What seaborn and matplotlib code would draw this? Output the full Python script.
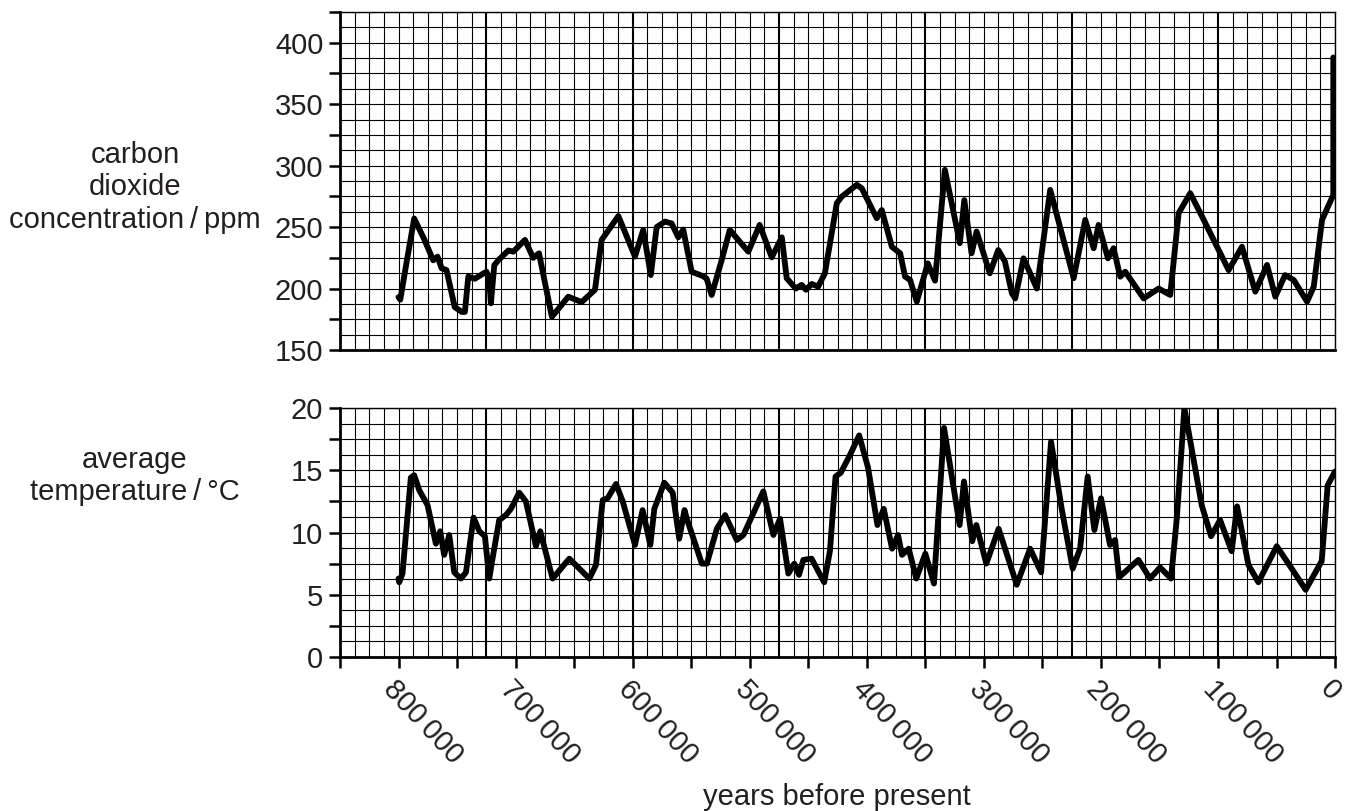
import numpy as np
import pandas as pd
import matplotlib
matplotlib.use('Agg')
import matplotlib.pyplot as plt
from matplotlib.ticker import MultipleLocator, FixedLocator, NullFormatter
import seaborn as sns

# carbon dioxide record (years before present, ppm)
co2_years = [800000, 798500, 793000, 786600, 778000, 770400, 766700, 763200, 759000, 752000,
             746000, 743300, 740400, 734800, 728000, 724800, 722500, 721100, 718200, 714800,
             706200, 702000, 692000, 685000, 680000, 669000, 655000, 643600, 632200, 626500,
             612200, 598000, 591000, 584500, 579500, 572400, 566700, 561000, 556800, 549600,
             539700, 536800, 532500, 524000, 517000, 501200, 491500, 481200, 472600, 468400,
             460700, 455600, 452000, 447000, 441500, 435800, 425600, 421400, 408500, 404300,
             391500, 387200, 378600, 371500, 367300, 363000, 357300, 347900, 341700, 333300,
             320500, 316700, 310500, 306200, 294900, 287700, 282000, 276000, 273200, 266100,
             254700, 243300, 223300, 213400, 206200, 202000, 194000, 189200, 183500, 179200,
             163500, 150700, 140800, 133600, 123700, 113700, 90900, 79500, 68100, 58100,
             51000, 42700, 35300, 23900, 18200, 11100, 1500, 1500]
co2_ppm = [193, 191, 222, 257, 240, 223, 226, 216.5, 215, 185,
           181, 181, 209.7, 208, 212, 213.7, 207, 188, 219, 223,
           231, 230, 239.6, 225, 228.7, 177, 193.4, 189, 199, 239.6,
           259, 226, 247.7, 211, 250, 254.5, 253, 241.7, 248, 213.7,
           210, 208, 194.8, 223, 247.7, 230, 251.8, 225.4, 241.7, 208.4,
           200, 203, 199, 203.7, 201.6, 212.4, 269.5, 274.8, 284.4, 281.6,
           257.2, 263.9, 234, 228.7, 209.7, 207, 189.3, 220.5, 206.4, 296.6,
           236.9, 272, 228.7, 246.4, 212.4, 231.4, 222, 196, 192, 224.6,
           200, 280.3, 208.4, 255.9, 232.8, 251.8, 224.6, 232.8, 209.7, 213.7,
           192, 200, 194.8, 261.4, 277.6, 258.8, 215, 234, 197.5, 219.2,
           193.4, 211, 207, 189.3, 201.6, 255.9, 276.2, 388]

# average temperature record (years before present, degC)
temp_years = [800000, 799400, 796600, 789500, 786600, 782300, 775200, 768100, 764400, 761000,
              756700, 752400, 746700, 742400, 735900, 731000, 726200, 722500, 719700, 714000,
              708300, 704000, 696900, 691200, 682600, 678900, 668400, 654100, 637000, 631300,
              625600, 621400, 614200, 608500, 598000, 591500, 584900, 581500, 573000, 565800,
              560200, 555700, 553700, 540900, 536600, 528100, 521000, 511100, 505400, 488400,
              479800, 474100, 467000, 461900, 457900, 454200, 447200, 436400, 431500, 426700,
              422200, 414500, 406500, 398900, 390900, 385500, 378400, 373300, 369900, 364200,
              357700, 350000, 342600, 334000, 320700, 317000, 309900, 306400, 297900, 287400,
              271900, 260500, 251100, 242600, 233500, 224100, 217800, 211300, 205600, 199900,
              192200, 187900, 184500, 168000, 158000, 149500, 140100, 135200, 128700, 113900,
              105900, 98200, 88300, 83700, 74000, 65500, 49800, 37000, 25100, 11400,
              6300, 0]
temp_c = [6.3, 6.0, 6.7, 14.4, 14.6, 13.4, 12.2, 9.1, 10.1, 8.2,
          9.8, 6.8, 6.3, 6.8, 11.2, 10.1, 9.7, 6.3, 7.9, 11.0,
          11.4, 11.9, 13.2, 12.5, 8.9, 10.1, 6.3, 7.9, 6.3, 7.4,
          12.6, 12.75, 13.9, 12.5, 9.0, 11.8, 9.0, 11.9, 14.0, 13.2,
          9.5, 11.8, 11.1, 7.5, 7.5, 10.3, 11.4, 9.4, 9.8, 13.3,
          9.8, 11.1, 6.7, 7.5, 6.6, 7.8, 7.9, 6.0, 8.5, 14.5,
          14.8, 16.2, 17.8, 15.2, 10.6, 11.9, 8.7, 9.8, 8.2, 8.7,
          6.3, 8.3, 5.9, 18.4, 10.6, 14.1, 9.3, 10.6, 7.5, 10.3,
          5.8, 8.7, 6.8, 17.3, 11.9, 7.1, 8.7, 14.5, 10.2, 12.75,
          9.0, 9.4, 6.4, 7.8, 6.3, 7.2, 6.3, 11.1, 20.0, 12.2,
          9.7, 11.0, 8.5, 12.1, 7.4, 6.0, 8.9, 7.1, 5.4, 7.7,
          13.8, 14.9]

x_labels = [800000, 700000, 600000, 500000, 400000, 300000, 200000, 100000, 0]

df_co2 = pd.DataFrame({'years': co2_years, 'co2': co2_ppm})
df_temp = pd.DataFrame({'years': temp_years, 'temp': temp_c})

sns.set_style('white')
plt.rcParams['font.family'] = ['Liberation Sans', 'DejaVu Sans']
text_col = '#231f20'
fs = 21

fig = plt.figure(figsize=(13.54, 8.11), dpi=100)
ax1 = fig.add_axes([0.2511, 0.5684, 0.7349, 0.4168])
ax2 = fig.add_axes([0.2511, 0.1899, 0.7349, 0.3070])


def graph_paper(ax, ylo, yhi, ystep):
    # the squared paper under the curves
    for x in np.arange(0, 850001, 12500):
        major = (850000 - x) % 125000 == 0
        ax.axvline(x, color='black', lw=1.5 if major else 0.8, zorder=1)
    for y in np.arange(ylo, yhi + ystep / 2, ystep):
        ax.axhline(y, color='black', lw=0.8, zorder=1)


graph_paper(ax1, 150, 425, 12.5)
graph_paper(ax2, 0, 20, 1.25)

sns.lineplot(data=df_co2, x='years', y='co2', ax=ax1, color='black', linewidth=4.2,
             sort=False, estimator=None, solid_joinstyle='round', solid_capstyle='round', zorder=3)
sns.lineplot(data=df_temp, x='years', y='temp', ax=ax2, color='black', linewidth=4.2,
             sort=False, estimator=None, solid_joinstyle='round', solid_capstyle='round', zorder=3)

for ax in (ax1, ax2):
    ax.set_xlim(850000, 0)
    ax.set_xlabel('')
    ax.set_ylabel('')
    for side in ('top', 'right'):
        ax.spines[side].set_linewidth(1.0)
    for side in ('left', 'bottom'):
        ax.spines[side].set_linewidth(2.0)
    for s in ax.spines.values():
        s.set_color('black')
        s.set_zorder(4)
    ax.tick_params(axis='y', which='both', direction='out', length=8, width=1.8,
                   colors='black', labelcolor=text_col, labelsize=fs, left=True, pad=4)

ax1.set_ylim(150, 425)
ax1.yaxis.set_major_locator(FixedLocator([150, 200, 250, 300, 350, 400]))
ax1.yaxis.set_minor_locator(MultipleLocator(25))
ax1.tick_params(axis='x', which='both', bottom=False, labelbottom=False)

ax2.set_ylim(0, 20)
ax2.yaxis.set_major_locator(MultipleLocator(5))
ax2.yaxis.set_minor_locator(MultipleLocator(2.5))
ax2.xaxis.set_major_locator(FixedLocator(x_labels))
ax2.xaxis.set_minor_locator(FixedLocator(np.arange(50000, 850001, 100000)))
ax2.xaxis.set_minor_formatter(NullFormatter())
ax2.set_xticklabels([f'{v:,}'.replace(',', '\u2009') for v in x_labels])
ax2.tick_params(axis='x', which='both', direction='out', length=8, width=1.8,
                colors='black', labelcolor=text_col, labelsize=fs, bottom=True, pad=5)
for lab in ax2.get_xticklabels():
    lab.set_rotation(-47)
    lab.set_ha('left')
    lab.set_va('top')
    lab.set_rotation_mode('anchor')

fig.text(0.0997, 0.769, 'carbon\ndioxide\nconcentration\u2009/\u2009ppm', ha='center', va='center',
         fontsize=fs, color=text_col, linespacing=1.2)
fig.text(0.0997, 0.413, 'average\ntemperature\u2009/\u2009\u00b0C', ha='center', va='center',
         fontsize=fs, color=text_col, linespacing=1.2)
fig.text(0.618, 0.017, 'years before present', ha='center', va='center',
         fontsize=fs, color=text_col)

fig.savefig('out.png', dpi=100)
